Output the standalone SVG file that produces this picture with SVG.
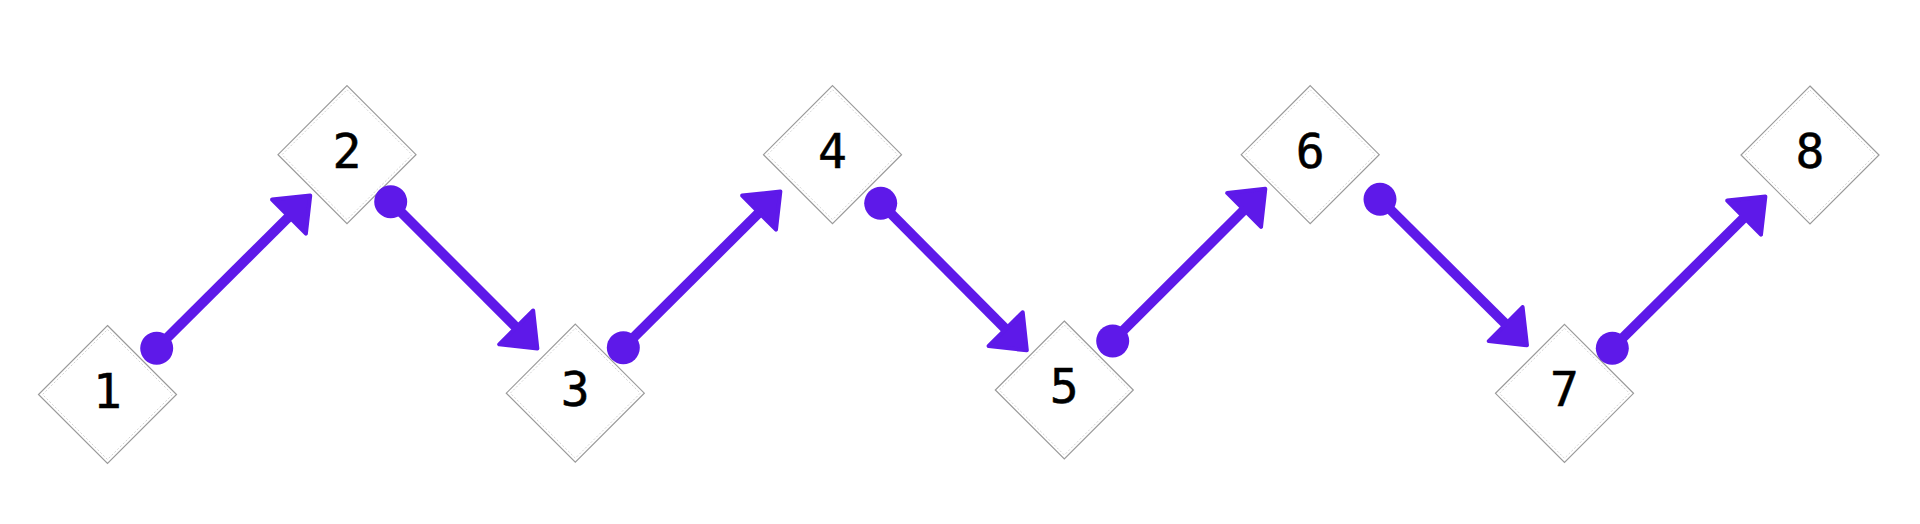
<svg xmlns="http://www.w3.org/2000/svg" width="1920" height="524" viewBox="0 0 1920 524">
<style>
.outer{fill:#fff;stroke:#9a9a9a;stroke-width:1.2}
.inner{fill:none;stroke:#d4d4d4;stroke-width:1;stroke-dasharray:2 2}
.lbl{font-family:"DejaVu Sans Mono","Liberation Mono",monospace;font-size:48px;fill:#000;stroke:#000;stroke-width:0.5;text-anchor:middle}
.edge{fill:none;stroke:#5E19E9;stroke-width:10;marker-start:url(#dot);marker-end:url(#head)}
</style>
<defs>
<marker id="dot" markerUnits="userSpaceOnUse" markerWidth="40" markerHeight="40" refX="0" refY="0" orient="auto" overflow="visible">
<circle cx="0" cy="0" r="16.5" fill="#5E19E9"/>
</marker>
<marker id="head" markerUnits="userSpaceOnUse" markerWidth="80" markerHeight="80" refX="0" refY="0" orient="auto" overflow="visible">
<path d="M28,0 L-2,-24 L-2,24 Z" fill="#5E19E9" stroke="#5E19E9" stroke-width="4" stroke-linejoin="round"/>
</marker>
<g id="dia">
<polygon class="outer" points="0,-69 69,0 0,69 -69,0"/>
<polygon class="inner" points="0,-65 65,0 0,65 -65,0"/>
</g>
</defs>
<rect width="1920" height="524" fill="#fff"/>
<g id="node1" transform="translate(107.5,394.5)"><use href="#dia"/><text class="lbl" x="0" y="13">1</text></g>
<g id="node2" transform="translate(347,154.7)"><use href="#dia"/><text class="lbl" x="0" y="13">2</text></g>
<g id="node3" transform="translate(575.3,393.2)"><use href="#dia"/><text class="lbl" x="0" y="13">3</text></g>
<g id="node4" transform="translate(832.5,154.7)"><use href="#dia"/><text class="lbl" x="0" y="13">4</text></g>
<g id="node5" transform="translate(1064.3,390)"><use href="#dia"/><text class="lbl" x="0" y="13">5</text></g>
<g id="node6" transform="translate(1310.2,154.7)"><use href="#dia"/><text class="lbl" x="0" y="13">6</text></g>
<g id="node7" transform="translate(1564.5,393.3)"><use href="#dia"/><text class="lbl" x="0" y="13">7</text></g>
<g id="node8" transform="translate(1810,155)"><use href="#dia"/><text class="lbl" x="0" y="13">8</text></g>
<g id="connectors">
<path class="edge" d="M156.7,348.3 L290.4,215.2"/>
<path class="edge" d="M390.7,201.7 L517.6,328.8"/>
<path class="edge" d="M623.3,347.7 L760.5,211.2"/>
<path class="edge" d="M880.7,203.3 L1007.1,330.5"/>
<path class="edge" d="M1112.7,341 L1245.5,208.5"/>
<path class="edge" d="M1380,199.3 L1507.1,325.5"/>
<path class="edge" d="M1612.3,348.3 L1745.5,216.2"/>
</g>
</svg>
